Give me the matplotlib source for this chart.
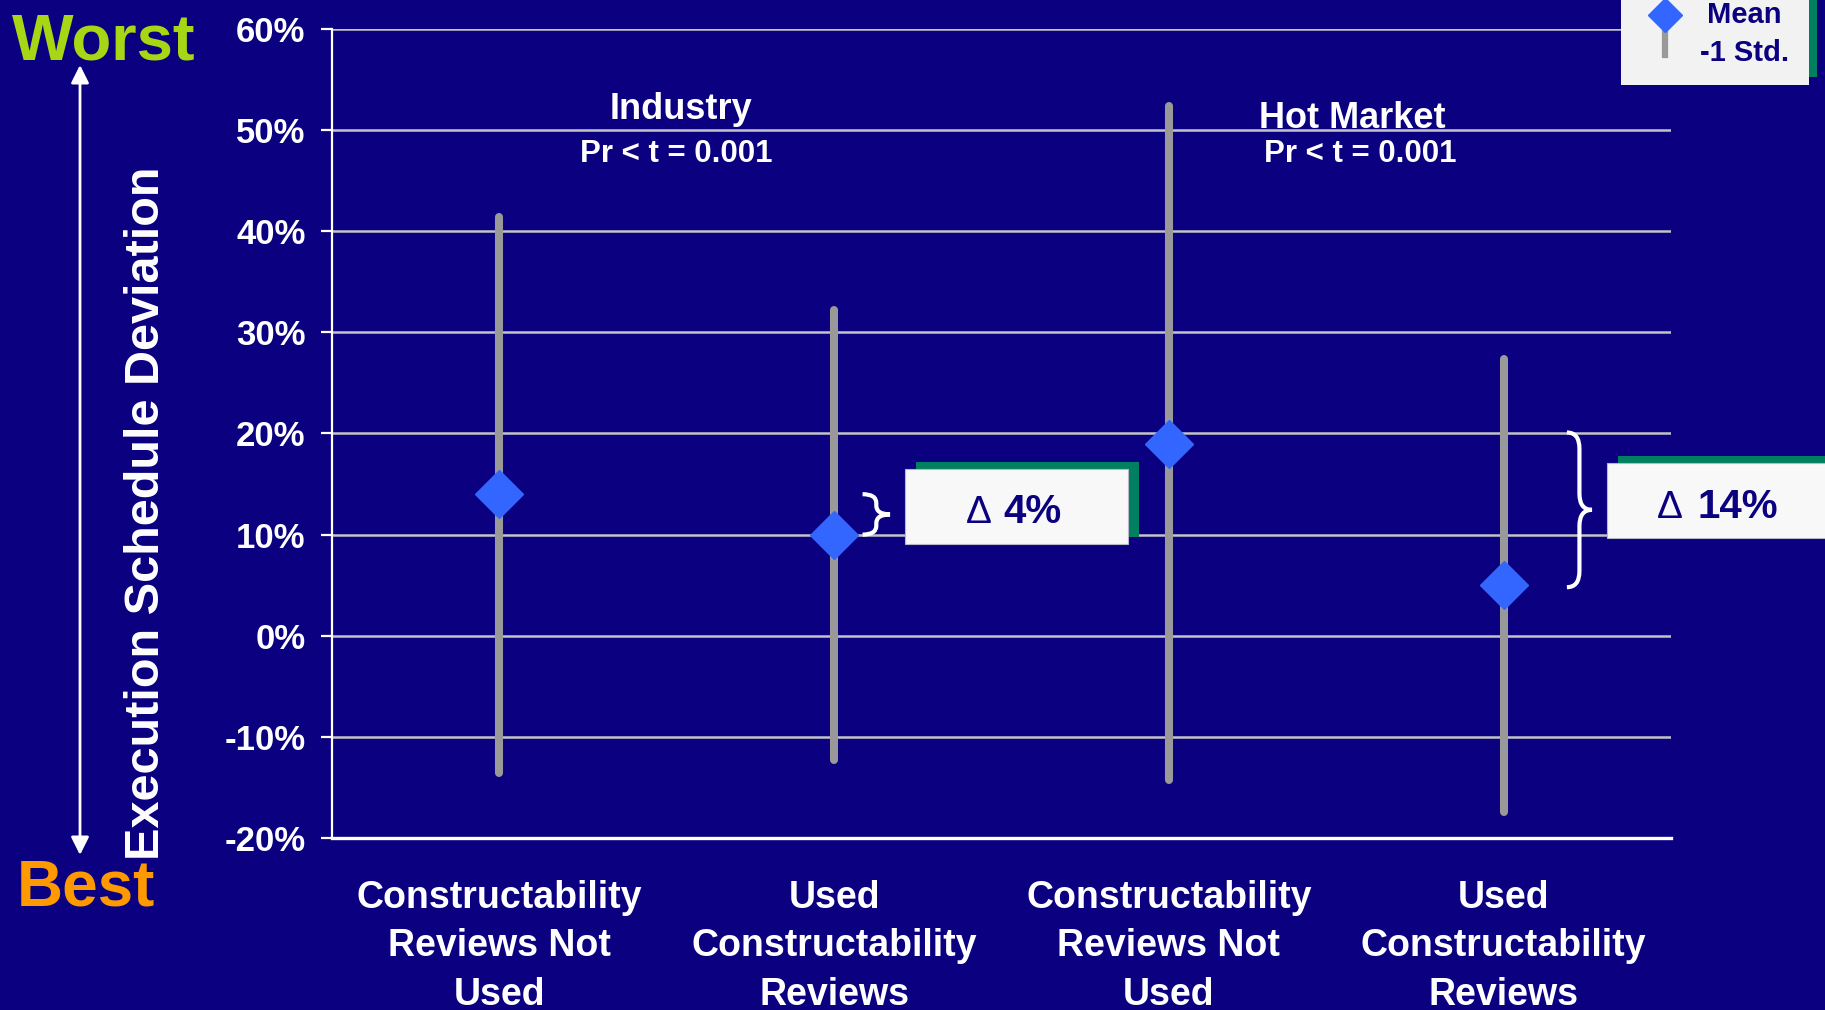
import matplotlib
matplotlib.use('Agg')
import matplotlib.pyplot as plt
from matplotlib.patches import Rectangle, PathPatch
from matplotlib.path import Path

# ── data ────────────────────────────────────────────────────────────────────
categories = [
    "Constructability\nReviews Not\nUsed",
    "Used\nConstructability\nReviews",
    "Constructability\nReviews Not\nUsed",
    "Used\nConstructability\nReviews",
]
means = [14, 10, 19, 5]
upper = [41.4, 32.2, 52.4, 27.4]     # mean + 1 std
lower = [-13.6, -12.3, -14.3, -17.4]  # mean - 1 std
groups = ["Industry", "Hot Market"]
p_values = ["Pr < t = 0.001", "Pr < t = 0.001"]
y_ticks = [-20, -10, 0, 10, 20, 30, 40, 50, 60]

NAVY = '#0a0080'
GREY = '#999999'
BLUE = '#3366ff'
GREEN = '#008060'
W, H = 1825, 1010

plt.rcParams['font.family'] = ['Liberation Sans', 'DejaVu Sans']
plt.rcParams['font.weight'] = 'bold'

fig = plt.figure(figsize=(W / 100, H / 100), dpi=100, facecolor=NAVY)


def fpx(x, y):
    """pixel position (top-left origin) -> figure fraction"""
    return x / W, 1 - y / H


ax = fig.add_axes([332 / W, 1 - 838 / H, (1671 - 332) / W, (838 - 29) / H])
ax.set_facecolor(NAVY)
ax.set_xlim(-0.5, 3.5)
ax.set_ylim(-20, 60)

# grid + spines
for v in y_ticks:
    ax.axhline(v, color='#c4c4c4', lw=1.8, zorder=1)
for s in ['top', 'right']:
    ax.spines[s].set_visible(False)
ax.spines['left'].set_color('white')
ax.spines['left'].set_linewidth(1.6)
ax.spines['bottom'].set_color('white')
ax.spines['bottom'].set_linewidth(2.4)
ax.spines['bottom'].set_zorder(3)

ax.set_yticks(y_ticks)
ax.set_yticklabels([f"{v}%" for v in y_ticks])
ax.tick_params(axis='y', colors='white', length=8, width=1.6, pad=11,
               labelsize=25)
ax.set_xticks(range(len(categories)))
ax.set_xticklabels(categories, linespacing=1.45)
ax.tick_params(axis='x', colors='white', length=0, pad=30, labelsize=27)

# mean +/- 1 std bars with diamond means
x = list(range(len(means)))
for xi, lo, hi in zip(x, lower, upper):
    ax.plot([xi, xi], [lo, hi], color=GREY, lw=5.8,
            solid_capstyle='round', zorder=4)
ax.plot(x, means, linestyle='none', marker='D', ms=24, color=BLUE,
        markeredgecolor=BLUE, zorder=5)

# group headers
ax.text(0.543, 51.1, groups[0], color='white', fontsize=26,
        ha='center', va='baseline', zorder=6)
ax.text(0.528, 46.85, p_values[0], color='white', fontsize=22.5,
        ha='center', va='baseline', zorder=6)
ax.text(2.547, 50.2, groups[1], color='white', fontsize=26,
        ha='center', va='baseline', zorder=6)
ax.text(2.571, 46.85, p_values[1], color='white', fontsize=22.5,
        ha='center', va='baseline', zorder=6)


def brace(x0, x1, y0, y1):
    ym = (y0 + y1) / 2
    xm = (x0 + x1) / 2
    r = min((y1 - y0) * 0.22, 1.6)
    verts = [(x0, y1), (xm, y1), (xm, y1 - r), (xm, ym + r), (xm, ym),
             (x1, ym), (xm, ym), (xm, ym - r), (xm, y0 + r), (xm, y0),
             (x0, y0)]
    codes = [Path.MOVETO, Path.CURVE3, Path.CURVE3, Path.LINETO,
             Path.CURVE3, Path.CURVE3, Path.CURVE3, Path.CURVE3,
             Path.LINETO, Path.CURVE3, Path.CURVE3]
    ax.add_patch(PathPatch(Path(verts, codes), fc='none', ec='white',
                           lw=3, zorder=6, clip_on=False))


def delta_box(x0, x1, y0, y1, dx_tri, dx_num, yb, diff):
    sx, sy = 11 / 334.75, 7 / 10.1125
    ax.add_patch(Rectangle((x0 + sx, y0 + sy), x1 - x0, y1 - y0,
                           fc=GREEN, ec='none', zorder=6, clip_on=False))
    ax.add_patch(Rectangle((x0, y0), x1 - x0, y1 - y0, fc='#f8f8f8',
                           ec='#b8b8c8', lw=0.8, zorder=7, clip_on=False))
    ax.text(dx_tri, yb, "Δ", color=NAVY, fontsize=28, fontweight='normal',
            ha='center', va='baseline', zorder=8)
    ax.text(dx_num, yb, f"{diff}%", color=NAVY, fontsize=29,
            ha='left', va='baseline', zorder=8)


brace(1.085, 1.167, means[1], means[0])
delta_box(1.212, 1.878, 9.07, 16.49, 1.433, 1.507, 11.15,
          means[0] - means[1])
brace(3.189, 3.264, means[3] - 0.2, means[2] + 1.1)
delta_box(3.309, 4.2, 9.67, 17.08, 3.497, 3.578, 11.64,
          means[2] - means[3])

# legend box
fig.patches.append(Rectangle(fpx(1629, 77), 188 / W, 90 / H, fc=GREEN,
                             ec='none', transform=fig.transFigure, zorder=10))
fig.patches.append(Rectangle(fpx(1621, 85), 188 / W, 90 / H, fc='#f2f2f2',
                             ec='none', transform=fig.transFigure, zorder=11))
fig.add_artist(plt.Line2D([1665 / W, 1665 / W], [1 - 32 / H, 1 - 55 / H],
                          color=GREY, lw=4.5, transform=fig.transFigure,
                          zorder=12))
fig.add_artist(plt.Line2D([1665 / W], [1 - 15 / H], marker='D', ms=17.5,
                          color=BLUE, transform=fig.transFigure, zorder=13))
fig.text(*fpx(1744, 15), "Mean", color=NAVY, fontsize=21, ha='center',
         va='center', zorder=13)
fig.text(*fpx(1745, 53), "-1 Std.", color=NAVY, fontsize=21, ha='center',
         va='center', zorder=13)

# left side: axis title with worst/best arrow
fig.text(*fpx(147, 513), "Execution Schedule Deviation", color='white',
         fontsize=35, rotation=90, ha='center', va='center')
fig.text(*fpx(12, 59), "Worst", color='#a6d614', fontsize=47,
         ha='left', va='baseline')
fig.text(*fpx(17, 905), "Best", color='#ff9900', fontsize=46,
         ha='left', va='baseline')
fig.add_artist(matplotlib.patches.FancyArrowPatch(
    fpx(80, 855), fpx(80, 65), transform=fig.transFigure,
    arrowstyle='<|-|>', mutation_scale=27, color='white', lw=2,
    shrinkA=0, shrinkB=0))

fig.savefig('out.png', dpi=100, facecolor=NAVY)
